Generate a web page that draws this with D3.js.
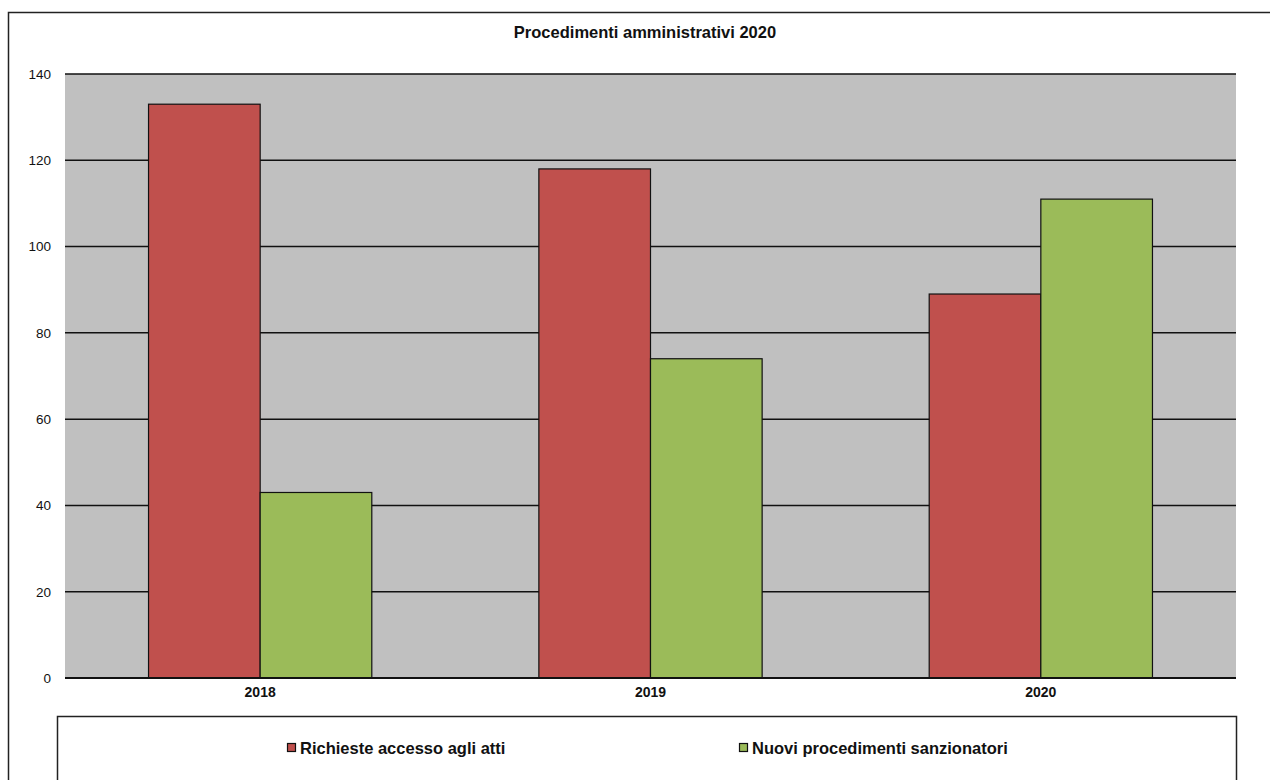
<!DOCTYPE html>
<html><head><meta charset="utf-8">
<script src="https://cdn.jsdelivr.net/npm/d3@7"></script>
<style>body{margin:0;background:#fff;}svg{display:block;font-family:"Liberation Sans",Arial,sans-serif;}</style>
</head><body><svg id="c" width="1270" height="780"></svg>
<script>
const categories = ["2018","2019","2020"];
const seriesNames = ["Richieste accesso agli atti","Nuovi procedimenti sanzionatori"];
const richieste = [133,118,89];
const nuovi = [43,74,111];
const yTicks = [0,20,40,60,80,100,120,140];
const colors = ["#C0504D","#9BBB59"];
const title = "Procedimenti amministrativi 2020";

const svg = d3.select("#c");
const L=65,R=1236,T=74,B=678;
svg.append("rect").attr("x",8.5).attr("y",12.5).attr("width",1300).attr("height",900).attr("fill","none").attr("stroke","#222").attr("stroke-width",1.5);
svg.append("text").attr("x",645).attr("y",38).attr("text-anchor","middle").attr("font-size",16.5).attr("font-weight","bold").attr("fill","#111").text(title);

const y = d3.scaleLinear().domain([0,140]).range([B,T]);
const x0 = d3.scaleBand().domain(categories).range([L,R]).paddingInner(0.428).paddingOuter(0.214);
const x1 = d3.scaleBand().domain([0,1]).range([0,x0.bandwidth()]);

svg.append("rect").attr("x",L).attr("y",T).attr("width",R-L).attr("height",B-T).attr("fill","#C0C0C0");
svg.append("g").selectAll("line").data(yTicks).join("line")
  .attr("x1",L).attr("x2",R).attr("y1",d=>y(d)).attr("y2",d=>y(d)).attr("stroke","#111").attr("stroke-width",1.5);

const data = categories.map((c,i)=>({c, v:[richieste[i],nuovi[i]]}));
const g = svg.append("g").selectAll("g").data(data).join("g").attr("transform",d=>`translate(${x0(d.c)},0)`);
g.selectAll("rect").data(d=>d.v.map((v,k)=>({v,k}))).join("rect")
  .attr("x",d=>x1(d.k)).attr("y",d=>y(d.v)).attr("width",x1.bandwidth()).attr("height",d=>B-y(d.v))
  .attr("fill",d=>colors[d.k]).attr("stroke","#111").attr("stroke-width",1.2);

const yAxis = d3.axisLeft(y).tickValues(yTicks).tickSize(0).tickPadding(14);
const ya = svg.append("g").attr("transform",`translate(${L},0)`).call(yAxis);
ya.select(".domain").remove();
ya.selectAll("text").attr("font-size",13.5).attr("fill","#111").attr("font-family","Liberation Sans, Arial, sans-serif");

const xAxis = d3.axisBottom(x0).tickSize(0).tickPadding(9);
const xa = svg.append("g").attr("transform",`translate(0,${B})`).call(xAxis);
xa.select(".domain").remove();
xa.selectAll("text").attr("font-size",14).attr("font-weight","bold").attr("fill","#111").attr("font-family","Liberation Sans, Arial, sans-serif");
svg.append("line").attr("x1",L).attr("x2",R).attr("y1",B).attr("y2",B).attr("stroke","#111").attr("stroke-width",2);

svg.append("rect").attr("x",57.5).attr("y",716.5).attr("width",1179).attr("height",200).attr("fill","#fff").attr("stroke","#222").attr("stroke-width",1.5);
const legX=[287,739];
const lg = svg.append("g").selectAll("g").data(seriesNames).join("g").attr("transform",(d,i)=>`translate(${legX[i]},743)`);
lg.append("rect").attr("x",0.5).attr("y",0.5).attr("width",8).attr("height",8).attr("fill",(d,i)=>colors[i]).attr("stroke","#111").attr("stroke-width",1.2);
lg.append("text").attr("x",13).attr("y",11).attr("font-size",16.5).attr("font-weight","bold").attr("fill","#111").text(d=>d);
</script></body></html>
